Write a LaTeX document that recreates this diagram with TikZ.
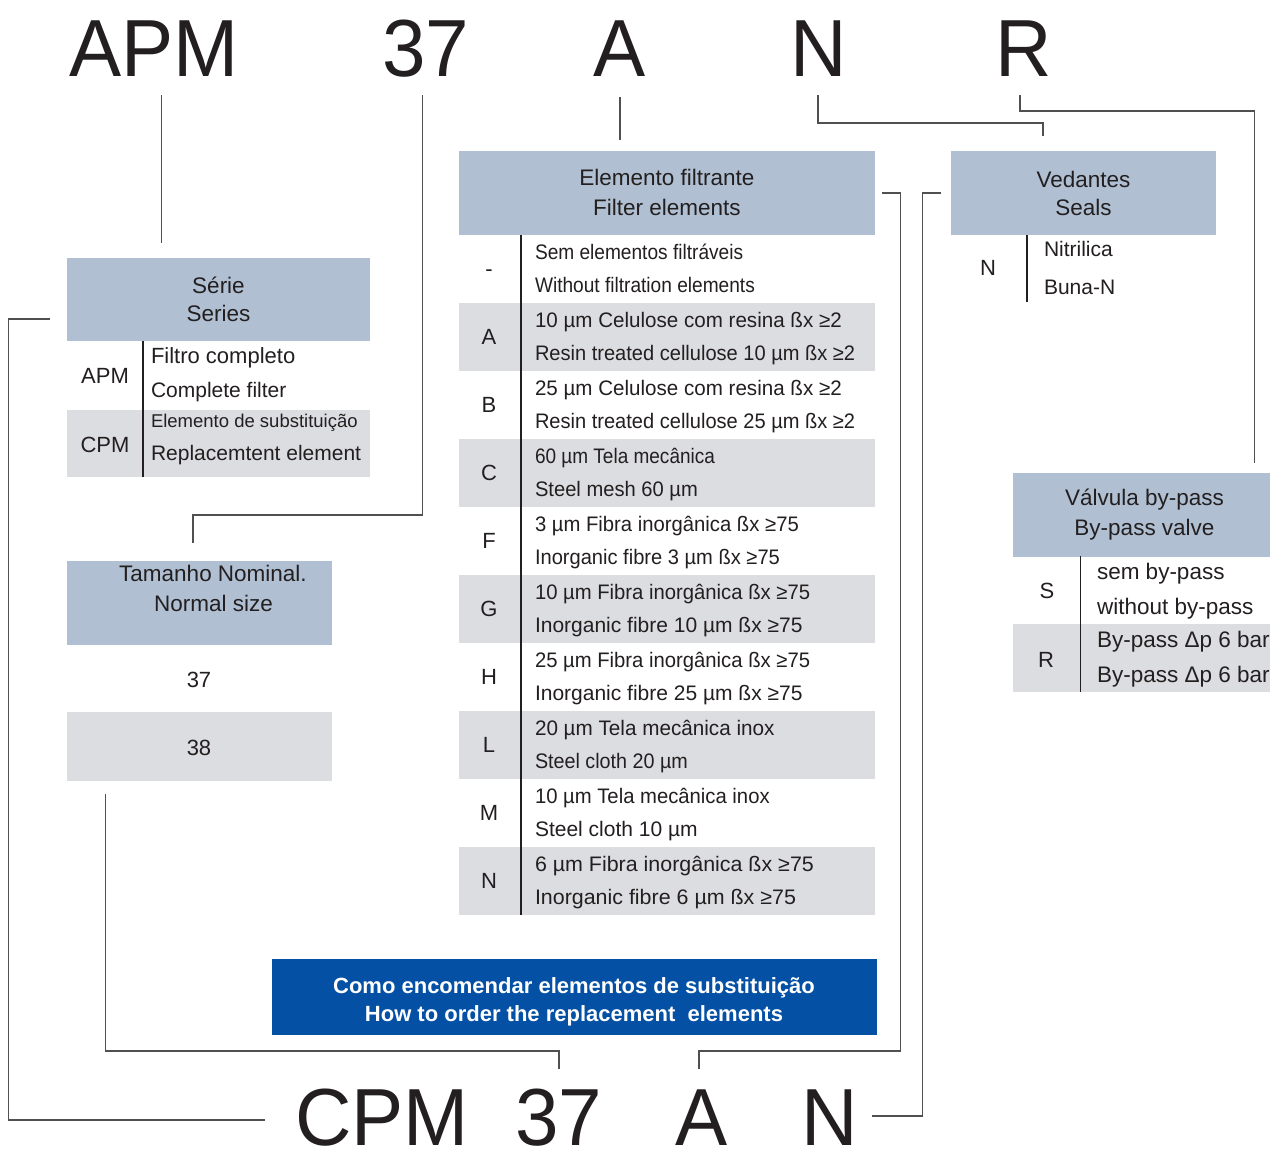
\documentclass[tikz,border=0pt]{standalone}
\usepackage{fontspec}
\setmainfont{Liberation Sans}
\usepackage{graphicx}
\definecolor{hdr}{HTML}{B0C0D2}
\definecolor{rowg}{HTML}{DCDDE0}
\definecolor{blu}{HTML}{0450A4}
\definecolor{conn}{HTML}{505050}
\definecolor{ink}{HTML}{231F20}
\newcommand\hs[2]{\scalebox{#1}[1]{#2}}
\newcommand\frow[5]{%
  \node[code] (fc#1) at (489,#2+41.5) {#3};
  \node[txt] (fa#1) at (535,#2+24.5) {#4};
  \node[txt] (fb#1) at (535,#2+57.5) {#5};}
\begin{document}
\begin{tikzpicture}[x=1pt,y=-1pt,
  every node/.style={inner sep=0pt, outer sep=0pt, text=ink},
  big/.style={font=\fontsize{81}{81}\selectfont, anchor=base},
  hdrtxt/.style={font=\fontsize{22.5}{28}\selectfont, anchor=base},
  txt/.style={font=\fontsize{21}{25}\selectfont, anchor=base west},
  code/.style={font=\fontsize{22}{25}\selectfont, anchor=base},
  box/.style={draw=none, anchor=north west},
  conline/.style={draw=conn, line width=1.3pt},
  divline/.style={draw=ink, line width=1.2pt},
  whitetxt/.style={font=\fontsize{22}{28}\selectfont\bfseries, anchor=base, text=white},
]
\clip (0,0) rectangle (1270,1149);
\fill[white] (0,0) rectangle (1270,1149);

% ---------- big code letters ----------
\node[big] (tAPM) at (154,76) {\hs{0.965}{APM}};
\node[big] (t37) at (425.5,76) {\hs{0.965}{37}};
\node[big] (tA) at (619.5,76) {\hs{0.965}{A}};
\node[big] (tN) at (819,76) {\hs{0.965}{N}};
\node[big] (tR) at (1023.5,76) {\hs{0.965}{R}};
\node[big] (bCPM) at (382,1145.5) {\hs{0.965}{CPM}};
\node[big] (b37) at (559,1145.5) {\hs{0.965}{37}};
\node[big] (bA) at (702,1145.5) {\hs{0.965}{A}};
\node[big] (bN) at (829.5,1145.5) {\hs{0.965}{N}};

% ---------- Serie ----------
\node[box, fill=hdr, minimum width=303, minimum height=83] (serH) at (67,258) {};
\node[hdrtxt] (serH1) at (218.5,293) {Série};
\node[hdrtxt] (serH2) at (218.5,321) {Series};
\node[box, fill=rowg, minimum width=303, minimum height=67] (serR2) at (67,410) {};
\draw[divline] (143,341) -- (143,477);
\node[code] (serC1) at (105,383) {APM};
\node[txt, font=\fontsize{22}{25}\selectfont] (serA1) at (151,363) {Filtro completo};
\node[txt] (serA2) at (151,397.5) {Complete filter};
\node[code] (serC2) at (105,452) {CPM};
\node[txt, font=\fontsize{18.5}{22}\selectfont] (serB1) at (151,427) {Elemento de substituição};
\node[txt] (serB2) at (151,460) {Replacemtent element};

% ---------- Tamanho ----------
\node[box, fill=hdr, minimum width=265, minimum height=84] (tamH) at (67,561) {};
\node[hdrtxt] (tamH1) at (213,581.7) {Tamanho Nominal.};
\node[hdrtxt] (tamH2) at (213.5,611.7) {Normal size};
\node[code] (tam37) at (199,687) {37};
\node[box, fill=rowg, minimum width=265, minimum height=69] (tamR2) at (67,712) {};
\node[code] (tam38) at (199,755) {38};

% ---------- Filter elements ----------
\node[box, fill=hdr, minimum width=416, minimum height=84] (filH) at (459,151) {};
\node[hdrtxt] (filH1) at (667,185.7) {Elemento filtrante};
\node[hdrtxt] (filH2) at (667,215) {Filter elements};
\foreach \t/\n in {303/A,439/C,575/G,711/L,847/N}
  \node[box, fill=rowg, minimum width=416, minimum height=68] (fr\n) at (459,\t) {};
\draw[divline] (521,235) -- (521,915);
\frow{0}{235}{-}{\hs{0.91}{Sem elementos filtráveis}}{\hs{0.91}{Without filtration elements}}
\frow{1}{303}{A}{\hs{0.98}{10 µm Celulose com resina ßx ≥2}}{\hs{0.955}{Resin treated cellulose 10 µm ßx ≥2}}
\frow{2}{371}{B}{\hs{0.98}{25 µm Celulose com resina ßx ≥2}}{\hs{0.955}{Resin treated cellulose 25 µm ßx ≥2}}
\frow{3}{439}{C}{\hs{0.905}{60 µm Tela mecânica}}{\hs{0.96}{Steel mesh 60 µm}}
\frow{4}{507}{F}{\hs{0.965}{3 µm Fibra inorgânica ßx ≥75}}{\hs{0.957}{Inorganic fibre 3 µm ßx ≥75}}
\frow{5}{575}{G}{\hs{0.965}{10 µm Fibra inorgânica ßx ≥75}}{Inorganic fibre 10 µm ßx ≥75}
\frow{6}{643}{H}{\hs{0.965}{25 µm Fibra inorgânica ßx ≥75}}{Inorganic fibre 25 µm ßx ≥75}
\frow{7}{711}{L}{\hs{0.985}{20 µm Tela mecânica inox}}{\hs{0.94}{Steel cloth 20 µm}}
\frow{8}{779}{M}{\hs{0.965}{10 µm Tela mecânica inox}}{Steel cloth 10 µm}
\frow{9}{847}{N}{\hs{1.02}{6 µm Fibra inorgânica ßx ≥75}}{\hs{1.02}{Inorganic fibre 6 µm ßx ≥75}}

% ---------- Seals ----------
\node[box, fill=hdr, minimum width=265, minimum height=84] (sealH) at (951,151) {};
\node[hdrtxt] (sealH1) at (1083.5,187) {Vedantes};
\node[hdrtxt] (sealH2) at (1083.5,215) {Seals};
\draw[divline] (1027,235) -- (1027,302);
\node[code] (sealC) at (988,275) {N};
\node[txt] (sealA1) at (1044,256.7) {Nitrilica};
\node[txt] (sealA2) at (1044,294) {Buna-N};

% ---------- By-pass valve ----------
\node[box, fill=hdr, minimum width=270, minimum height=84] (valH) at (1013,473) {};
\node[hdrtxt] (valH1) at (1144.5,505.7) {Válvula by-pass};
\node[hdrtxt] (valH2) at (1144.5,535) {By-pass valve};
\node[box, fill=rowg, minimum width=270, minimum height=68] (valR2) at (1013,624) {};
\draw[divline] (1080.5,556) -- (1080.5,692);
\node[code] (valC1) at (1047,598) {S};
\node[txt, font=\fontsize{22.5}{25}\selectfont] (valA1) at (1097,579) {sem by-pass};
\node[txt, font=\fontsize{22.5}{25}\selectfont] (valA2) at (1097,614) {without by-pass};
\node[code] (valC2) at (1046,667) {R};
\node[txt, font=\fontsize{22.5}{25}\selectfont] (valB1) at (1097,647) {By-pass Δp 6 bar};
\node[txt, font=\fontsize{22.5}{25}\selectfont] (valB2) at (1097,682) {By-pass Δp 6 bar};

% ---------- Order box ----------
\node[box, fill=blu, minimum width=605, minimum height=76] (order) at (272,959) {};
\node[whitetxt] (order1) at (574,993.3) {Como encomendar elementos de substituição};
\node[whitetxt] (order2) at (574,1021.7) {How to order the replacement\ \ elements};

% ---------- connector points ----------
\coordinate (pAPMa) at (161.5,95);  \coordinate (pAPMb) at (161.5,243);
\coordinate (p37a) at (422.5,95);   \coordinate (p37b) at (422.5,515);
\coordinate (p37c) at (193,515);    \coordinate (p37d) at (193,543);
\coordinate (pAa) at (620,97);      \coordinate (pAb) at (620,140);
\coordinate (pNa) at (818,95);      \coordinate (pNb) at (818,123);
\coordinate (pNc) at (1043,123);    \coordinate (pNd) at (1043,136);
\coordinate (pRa) at (1020,95);     \coordinate (pRb) at (1020,111);
\coordinate (pRc) at (1254.5,111);  \coordinate (pRd) at (1254.5,463);
\coordinate (qCa) at (50,319);      \coordinate (qCb) at (8.5,319);
\coordinate (qCc) at (8.5,1120);    \coordinate (qCd) at (265,1120);
\coordinate (q37a) at (105.5,794);  \coordinate (q37b) at (105.5,1051);
\coordinate (q37c) at (559,1051);   \coordinate (q37d) at (559,1069);
\coordinate (qAa) at (882,193);     \coordinate (qAb) at (900.5,193);
\coordinate (qAc) at (900.5,1051);  \coordinate (qAd) at (699,1051);
\coordinate (qAe) at (699,1069);
\coordinate (qNa) at (940.5,193);   \coordinate (qNb) at (922.5,193);
\coordinate (qNc) at (922.5,1116);  \coordinate (qNd) at (872,1116);

\draw[conline] (pAPMa) -- (pAPMb);
\draw[conline] (p37a) -- (p37b) -- (p37c) -- (p37d);
\draw[conline] (pAa) -- (pAb);
\draw[conline] (pNa) -- (pNb) -- (pNc) -- (pNd);
\draw[conline] (pRa) -- (pRb) -- (pRc) -- (pRd);
\draw[conline] (qCa) -- (qCb) -- (qCc) -- (qCd);
\draw[conline] (q37a) -- (q37b) -- (q37c) -- (q37d);
\draw[conline] (qAa) -- (qAb) -- (qAc) -- (qAd) -- (qAe);
\draw[conline] (qNa) -- (qNb) -- (qNc) -- (qNd);
\end{tikzpicture}
\end{document}
